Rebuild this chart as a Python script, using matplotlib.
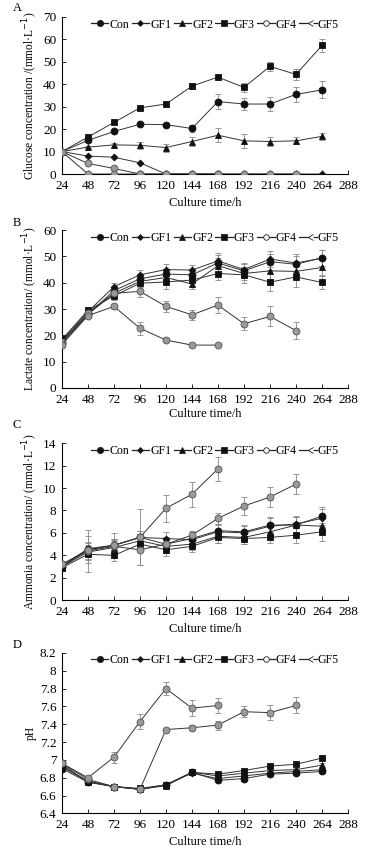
import matplotlib
matplotlib.use("Agg")
import matplotlib.pyplot as plt
import numpy as np

plt.rcParams['font.family'] = ['Liberation Serif', 'DejaVu Serif']

hours = [24, 48, 72, 96, 120, 144, 168, 192, 216, 240, 264]
series_names = ["Con", "GF1", "GF2", "GF3", "GF4", "GF5"]
x_ticks = [24, 48, 72, 96, 120, 144, 168, 192, 216, 240, 264, 288]

# Panel A: glucose
glu_con = [10, 15, 19, 22.2, 22, 20.3, 32.3, 31.2, 31.2, 35.5, 37.5]
glu_gf1 = [10, 8, 7.5, 5, 0, 0, 0, 0, 0, 0, 0]
glu_gf2 = [10, 12, 13, 12.8, 11.8, 14.5, 17.3, 14.8, 14.5, 14.8, 16.8]
glu_gf3 = [10, 16.5, 23, 29.5, 31.2, 39.2, 43.2, 38.6, 48, 44.4, 57.3]
glu_gf4 = [10, 4.7, 2.5, 0, 0, 0, 0, 0, 0, 0]
glu_gf5 = [10, 0, 0, 0, 0, 0, 0]
glu_err_con = [0, 0.5, 0.5, 0.5, 0.5, 1.5, 3.3, 2.5, 3, 3.5, 3.8]
glu_err_gf1 = [0, 0, 0, 0, 0, 0, 0, 0, 0, 0, 0]
glu_err_gf2 = [0, 0.5, 1, 1.5, 1.8, 2, 3, 3, 2, 1.5, 1.5]
glu_err_gf3 = [0, 0.8, 0.8, 0.8, 0.8, 1.2, 0.8, 2, 2, 2.5, 3]
glu_err_gf4 = [0, 0, 0, 0, 0, 0, 0, 0, 0, 0]
glu_err_gf5 = [0, 0, 0, 0, 0, 0, 0]

# Panel B: lactate
lac_con = [17, 28, 37, 41.5, 43.3, 43, 47.5, 44.5, 48, 47, 49.5]
lac_gf1 = [18, 29, 38.5, 43, 45, 44.8, 48.3, 45, 49, 47.5, 49.3]
lac_gf2 = [17.5, 28, 36, 40.5, 42, 39.5, 46.5, 43.5, 44.5, 44.3, 45.8]
lac_gf3 = [18.5, 29.5, 35, 39.8, 40.3, 41, 43.5, 43, 40.2, 42.2, 40.1]
lac_gf4 = [17.5, 28.5, 36, 36.7, 31, 27.8, 31.5, 24.4, 27.2, 21.8]
lac_gf5 = [16.5, 27.5, 31, 22.7, 18.2, 16.3, 16.3]
lac_err_con = [1, 1, 1.5, 2, 2, 2, 3, 2.5, 3, 3, 3]
lac_err_gf1 = [1, 1, 1.5, 2, 2, 2, 3, 2.5, 3, 3.5, 3]
lac_err_gf2 = [1, 1, 1.5, 2, 2, 2, 3, 2.5, 3, 3, 3]
lac_err_gf3 = [1, 1, 1.5, 2, 2.5, 2.5, 2.5, 3, 3.5, 4, 2.5]
lac_err_gf4 = [1, 1, 1.5, 2, 2, 2, 3, 2.5, 3.8, 3.2]
lac_err_gf5 = [1, 1, 1, 2.5, 0.5, 0.5, 0.5]

# Panel C: ammonia
amm_con = [3.0, 4.6, 4.9, 5.6, 5.0, 5.5, 6.2, 6.1, 6.7, 6.7, 7.5]
amm_gf1 = [3.0, 4.5, 4.9, 5.6, 5.5, 5.4, 6.1, 6.0, 6.6, 6.8, 7.3]
amm_gf2 = [3.0, 4.3, 4.7, 5.3, 4.8, 5.0, 5.7, 5.6, 6.1, 6.7, 6.6]
amm_gf3 = [2.9, 4.1, 4.0, 5.0, 4.5, 4.8, 5.6, 5.5, 5.6, 5.8, 6.1]
amm_gf4 = [3.2, 4.4, 4.8, 4.5, 5.0, 5.8, 7.3, 8.4, 9.2, 10.35]
amm_gf5 = [3.2, 4.5, 4.9, 5.6, 8.2, 9.45, 11.7]
amm_err_con = [0.3, 0.6, 0.6, 0.6, 0.6, 0.5, 0.6, 0.6, 0.7, 0.7, 0.8]
amm_err_gf1 = [0.3, 0.6, 0.6, 0.6, 0.6, 0.5, 0.6, 0.6, 0.7, 0.7, 0.8]
amm_err_gf2 = [0.3, 0.6, 0.6, 0.6, 0.6, 0.5, 0.6, 0.6, 0.7, 0.7, 0.8]
amm_err_gf3 = [0.3, 0.5, 0.5, 0.6, 0.6, 0.5, 0.5, 0.5, 0.5, 0.7, 0.8]
amm_err_gf4 = [0.3, 1.9, 0.6, 1.4, 0.6, 0.4, 0.5, 0.8, 0.9, 0.9]
amm_err_gf5 = [0.3, 1.2, 1.1, 2.5, 1.2, 1.1, 1.1]

# Panel D: pH
ph_con = [6.90, 6.75, 6.70, 6.67, 6.72, 6.86, 6.77, 6.79, 6.84, 6.85, 6.87]
ph_gf1 = [6.92, 6.76, 6.70, 6.67, 6.72, 6.85, 6.79, 6.82, 6.85, 6.87, 6.89]
ph_gf2 = [6.93, 6.76, 6.70, 6.67, 6.71, 6.86, 6.82, 6.85, 6.88, 6.89, 6.94]
ph_gf3 = [6.95, 6.75, 6.70, 6.68, 6.72, 6.86, 6.84, 6.88, 6.93, 6.95, 7.02]
ph_gf4 = [6.96, 6.78, 6.70, 6.67, 7.34, 7.36, 7.39, 7.54, 7.53, 7.61]
ph_gf5 = [6.96, 6.80, 7.03, 7.43, 7.80, 7.58, 7.61]
ph_err_con = [0.02, 0.02, 0.02, 0.02, 0.02, 0.02, 0.02, 0.02, 0.02, 0.02, 0.02]
ph_err_gf1 = [0.02, 0.02, 0.02, 0.02, 0.02, 0.02, 0.02, 0.02, 0.02, 0.02, 0.02]
ph_err_gf2 = [0.02, 0.02, 0.02, 0.02, 0.02, 0.02, 0.02, 0.02, 0.02, 0.02, 0.02]
ph_err_gf3 = [0.02, 0.02, 0.02, 0.02, 0.02, 0.02, 0.02, 0.02, 0.02, 0.02, 0.02]
ph_err_gf4 = [0.02, 0.02, 0.02, 0.03, 0.02, 0.03, 0.05, 0.06, 0.08, 0.09]
ph_err_gf5 = [0.02, 0.02, 0.06, 0.08, 0.07, 0.09, 0.08]

panels = [
    ("A", "Glucose concentration /(mmol·L$^{-1}$)",
     [glu_con, glu_gf1, glu_gf2, glu_gf3, glu_gf4, glu_gf5],
     [glu_err_con, glu_err_gf1, glu_err_gf2, glu_err_gf3, glu_err_gf4, glu_err_gf5],
     (0, 70), [0, 10, 20, 30, 40, 50, 60, 70], None),
    ("B", "Lactate concentration/ (mmol·L$^{-1}$)",
     [lac_con, lac_gf1, lac_gf2, lac_gf3, lac_gf4, lac_gf5],
     [lac_err_con, lac_err_gf1, lac_err_gf2, lac_err_gf3, lac_err_gf4, lac_err_gf5],
     (0, 60), [0, 10, 20, 30, 40, 50, 60], None),
    ("C", "Ammonia concentration/ (mmol·L$^{-1}$)",
     [amm_con, amm_gf1, amm_gf2, amm_gf3, amm_gf4, amm_gf5],
     [amm_err_con, amm_err_gf1, amm_err_gf2, amm_err_gf3, amm_err_gf4, amm_err_gf5],
     (0, 14), [0, 2, 4, 6, 8, 10, 12, 14], None),
    ("D", "pH",
     [ph_con, ph_gf1, ph_gf2, ph_gf3, ph_gf4, ph_gf5],
     [ph_err_con, ph_err_gf1, ph_err_gf2, ph_err_gf3, ph_err_gf4, ph_err_gf5],
     (6.4, 8.2), [6.4, 6.6, 6.8, 7.0, 7.2, 7.4, 7.6, 7.8, 8.0, 8.2],
     ["6.4", "6.6", "6.8", "7", "7.2", "7.4", "7.6", "7.8", "8", "8.2"]),
]

# marker styles
mk = ["o", "D", "^", "s", "o", "o"]
ms = [5.0, 3.5, 4.5, 4.8, 5.0, 5.0]
mfc = ["#111111", "#111111", "#111111", "#111111", "#999999", "#999999"]
mec = ["#111111", "#111111", "#111111", "#111111", "#555555", "#555555"]
leg_mfc = ["#111111", "#111111", "#111111", "#111111", "white", "white"]
leg_mk = ["o", "D", "^", "s", "o", 4]
leg_ms = [4.5, 3.0, 4.0, 4.3, 4.0, 4.5]

fig = plt.figure(figsize=(3.69, 8.49), dpi=100)
boxes = [(0.980, 0.795), (0.729, 0.543), (0.478, 0.293), (0.231, 0.042)]
letters_y = [0.991, 0.737, 0.499, 0.240]
xlabel_y = [0.761, 0.512, 0.259, 0.008]
left, right = 0.168, 0.943

for i, (letter, ylabel, ys, errs, ylim, yticks, ytl) in enumerate(panels):
    top, bot = boxes[i]
    ax = fig.add_axes([left, bot, right - left, top - bot])
    handles = []
    for j in range(6):
        n = len(ys[j])
        ax.errorbar(hours[:n], ys[j], yerr=errs[j], fmt="none",
                    ecolor="#888888", elinewidth=0.6, capsize=2, capthick=0.6, zorder=2)
        ax.plot(hours[:n], ys[j], color="#333333", lw=0.7, marker=mk[j],
                ms=ms[j], mfc=mfc[j], mec=mec[j], mew=0.6, zorder=3)
        h, = ax.plot([], [], color="#222222", lw=0.9, marker=leg_mk[j],
                     ms=leg_ms[j], mfc=leg_mfc[j], mec="#222222", mew=0.6)
        handles.append(h)
    ax.set_xlim(24, 288)
    ax.set_ylim(*ylim)
    ax.set_xticks(x_ticks)
    ax.set_yticks(yticks)
    if ytl:
        ax.set_yticklabels(ytl)
    for s in ["top", "right"]:
        ax.spines[s].set_visible(False)
    for s in ["left", "bottom"]:
        ax.spines[s].set_linewidth(0.8)
    ax.tick_params(direction="in", length=3, width=0.6, labelsize=9.5, pad=4)
    ax.set_ylabel(ylabel, fontsize=8.3, labelpad=2)
    ax.legend(handles, series_names, ncol=6, loc="upper right",
              bbox_to_anchor=(0.985, 1.02), frameon=False, fontsize=8.6,
              handlelength=1.45, handletextpad=0.1, columnspacing=0.2,
              borderaxespad=0)
    fig.text(0.035, letters_y[i], letter, fontsize=9, ha="left", va="center")
    fig.text((left + right) / 2, xlabel_y[i], "Culture time/h", fontsize=9,
             ha="center", va="center")

fig.savefig("out.png", dpi=100)
